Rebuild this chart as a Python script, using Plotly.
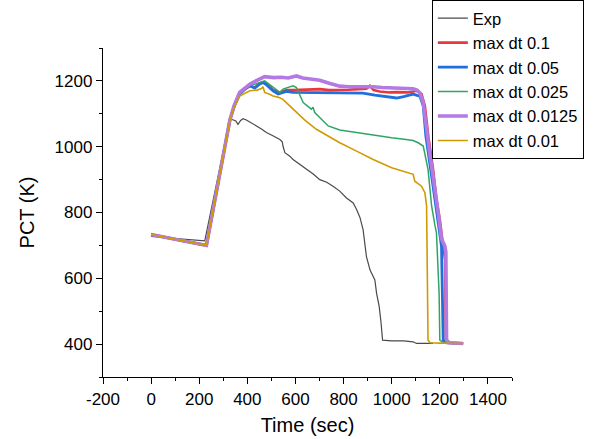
import plotly.graph_objects as go

# ---- data ----
exp_t = [0, 223, 327, 340, 352, 361, 372, 382, 396, 420, 438, 460, 479, 510, 535, 545, 548, 556, 575, 590,
         620, 646, 675, 701, 730, 756, 784, 812, 840, 854, 868, 881, 888, 895, 910, 923, 930, 937, 948, 955,
         962, 1000, 1050, 1089, 1103, 1140, 1172]
exp_T = [727, 714, 1083, 1082, 1078, 1068, 1080, 1085, 1081, 1072, 1063, 1053, 1043, 1032, 1022, 1015, 1002, 982, 972, 961,
         946, 931, 916, 900, 892, 880, 865, 844, 829, 809, 785, 748, 710, 666, 625, 605, 595, 555, 514, 470,
         412, 410, 410, 407, 402, 402, 402]

dt01_t = [0, 230, 327, 345, 368, 390, 410, 431, 450, 465, 480, 507, 535, 562, 590, 630, 660, 701, 740, 784,
          820, 860, 895, 909, 925, 950, 992, 1020, 1062, 1089, 1103, 1124, 1138, 1152, 1172, 1186, 1200, 1214, 1222, 1225, 1240, 1297]
dt01_T = [733, 700, 1080, 1122, 1160, 1175, 1185, 1180, 1192, 1196, 1190, 1172, 1165, 1172, 1172, 1173, 1174, 1175, 1172, 1172,
          1173, 1175, 1176, 1185, 1172, 1168, 1165, 1166, 1165, 1168, 1170, 1160, 1124, 1032, 931, 839, 778, 697, 656, 412, 404, 402]

dt005_t = [0, 230, 327, 345, 368, 390, 410, 431, 450, 465, 480, 507, 528, 562, 590, 646, 700, 784, 850, 880,
           930, 978, 1020, 1050, 1075, 1089, 1105, 1117, 1131, 1142, 1172, 1193, 1207, 1214, 1230, 1297]
dt005_T = [733, 700, 1080, 1122, 1160, 1175, 1185, 1178, 1190, 1195, 1188, 1170, 1160, 1168, 1165, 1165, 1164, 1165, 1164, 1163,
           1157, 1152, 1148, 1152, 1158, 1160, 1156, 1154, 1124, 1032, 880, 778, 697, 412, 404, 402]

dt0025_t = [0, 230, 327, 345, 368, 390, 410, 440, 465, 472, 490, 507, 535, 548, 570, 590, 604, 632, 666, 673,
            680, 710, 736, 784, 850, 923, 1000, 1060, 1089, 1110, 1131, 1151, 1166, 1180, 1186, 1197, 1200, 1215, 1297]
dt0025_T = [733, 700, 1080, 1122, 1160, 1175, 1185, 1192, 1200, 1200, 1190, 1180, 1165, 1175, 1180, 1185, 1180, 1134, 1114, 1120,
            1104, 1082, 1063, 1051, 1043, 1034, 1027, 1022, 1019, 1012, 1002, 931, 819, 760, 738, 555, 412, 404, 402]

dt00125_t = [0, 230, 327, 345, 368, 390, 410, 430, 450, 472, 510, 540, 570, 604, 630, 672, 701, 740, 770, 784,
             820, 860, 923, 960, 1000, 1040, 1089, 1105, 1117, 1131, 1140, 1150, 1158, 1170, 1186, 1195, 1207, 1215, 1221, 1225, 1228, 1240, 1297]
dt00125_T = [733, 700, 1080, 1125, 1165, 1180, 1190, 1198, 1205, 1213, 1210, 1211, 1209, 1215, 1209, 1206, 1202, 1193, 1186, 1184,
             1182, 1183, 1182, 1180, 1179, 1178, 1176, 1172, 1164, 1134, 1080, 1010, 980, 920, 845, 790, 720, 705, 697, 680, 412, 404, 402]

dt001_t = [0, 230, 327, 341, 368, 390, 410, 440, 459, 465, 472, 490, 507, 530, 548, 575, 604, 640, 687, 730,
           784, 850, 923, 1000, 1060, 1089, 1096, 1110, 1124, 1138, 1145, 1151, 1160, 1200, 1297]
dt001_T = [733, 700, 1078, 1114, 1154, 1163, 1170, 1172, 1177, 1182, 1165, 1160, 1154, 1150, 1144, 1125, 1104, 1080, 1053, 1035,
           1012, 988, 961, 936, 921, 916, 895, 888, 880, 860, 819, 412, 404, 403, 402]

x_ticks = [-200, 0, 200, 400, 600, 800, 1000, 1200, 1400]
y_ticks = [400, 600, 800, 1000, 1200]

series = [
    ("Exp", exp_t, exp_T, "#4a4a4a", 1.2),
    ("max dt 0.1", dt01_t, dt01_T, "#e8383f", 2.6),
    ("max dt 0.05", dt005_t, dt005_T, "#1f6fdc", 2.8),
    ("max dt 0.025", dt0025_t, dt0025_T, "#2fa565", 1.5),
    ("max dt 0.0125", dt00125_t, dt00125_T, "#b47ae4", 3.6),
    ("max dt 0.01", dt001_t, dt001_T, "#d09b00", 1.6),
]

fig = go.Figure()
for name, t, T, color, w in series:
    fig.add_trace(go.Scatter(x=t, y=T, mode="lines", name=name,
                             line=dict(color=color, width=w)))

font_family = "Liberation Sans, Arial, sans-serif"
axis_common = dict(
    showgrid=False, zeroline=False, showline=True, linecolor="black", linewidth=1.3,
    ticks="outside", ticklen=6, tickwidth=1.2, tickcolor="black",
    tickfont=dict(size=17, color="black", family=font_family),
    minor=dict(ticks="outside", ticklen=3, tickwidth=1, tickcolor="black"),
)
fig.update_xaxes(range=[-200, 1500], tickvals=x_ticks, ticktext=[str(v) for v in x_ticks],
                 minor_dtick=100, minor_tick0=-100,
                 title=dict(text="Time (sec)", font=dict(size=20, color="black", family=font_family), standoff=10),
                 **axis_common)
fig.update_yaxes(range=[300, 1300], tickvals=y_ticks, ticktext=[str(v) for v in y_ticks],
                 minor_dtick=100, minor_tick0=300,
                 title=dict(text="PCT (K)", font=dict(size=20, color="black", family=font_family), standoff=14),
                 **axis_common)
fig.update_layout(
    width=599, height=439,
    margin=dict(l=103, r=87, t=48, b=62, autoexpand=False),
    paper_bgcolor="white", plot_bgcolor="white",
    font=dict(family=font_family, color="black"),
    legend=dict(x=0.804, y=1.146, xanchor="left", yanchor="top",
                bordercolor="black", borderwidth=1, bgcolor="white",
                font=dict(size=16.5, color="black", family=font_family),
                tracegroupgap=0),
    showlegend=True,
)
fig.write_html("out.html")
